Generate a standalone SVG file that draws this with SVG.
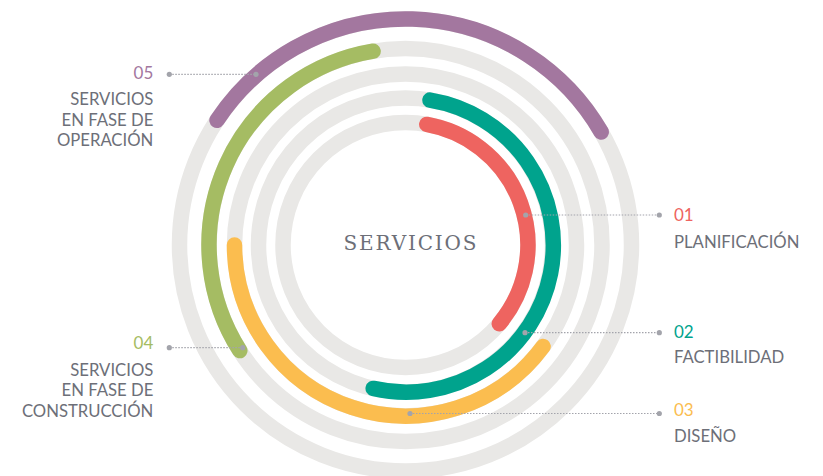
<svg xmlns="http://www.w3.org/2000/svg" width="823" height="476" viewBox="0 0 823 476">
<style>
.ring{fill:none;stroke:#E9E8E6;stroke-width:15.5}
.arc{fill:none;stroke-width:15.5;stroke-linecap:round}
.lead{fill:none;stroke:#A3A4AB;stroke-width:1.2;stroke-dasharray:1.5 1.5}
.dot{fill:#A3A4AB}
.lbl{font-family:Lato,"Open Sans","Liberation Sans",sans-serif;font-size:16.7px;fill:#6D6F78}
.num{font-family:Lato,"Open Sans","Liberation Sans",sans-serif;font-size:17px}
.title{font-family:"DejaVu Serif","Liberation Serif",serif;font-size:20px;fill:#6D6F78}
</style>
<rect width="823" height="476" fill="#FFFFFF"/>
<g id="rings">
<circle class="ring" cx="405.5" cy="245" r="226"/>
<circle class="ring" cx="405.5" cy="245" r="196.5"/>
<circle class="ring" cx="405.5" cy="245" r="171"/>
<circle class="ring" cx="405.5" cy="245" r="147"/>
<circle class="ring" cx="405.5" cy="245" r="122.5"/>
</g>
<g id="arc05"><path class="arc" stroke="#A3779F" d="M217,120.3 A226,226 0 0 1 601.2,132"/></g>
<g id="arc04"><path class="arc" stroke="#A5BC63" d="M239.8,350.6 A196.5,196.5 0 0 1 373.1,51.2"/></g>
<g id="arc03"><path class="arc" stroke="#FBBD4F" d="M543.1,346.5 A171,171 0 0 1 234.5,245"/></g>
<g id="arc02"><path class="arc" stroke="#00A38D" d="M430,100.1 A147,147 0 1 1 373.2,388.4"/></g>
<g id="arc01"><path class="arc" stroke="#EE6460" d="M426.8,124.4 A122.5,122.5 0 0 1 499.3,323.7"/></g>
<g id="connectors">
<line class="lead" x1="525.7" y1="215" x2="659.3" y2="215"/>
<circle class="dot" cx="525.7" cy="215" r="2.6"/><circle class="dot" cx="659.3" cy="215" r="2.6"/>
<line class="lead" x1="525" y1="332.7" x2="659.3" y2="332.7"/>
<circle class="dot" cx="525" cy="332.7" r="2.6"/><circle class="dot" cx="659.3" cy="332.7" r="2.6"/>
<line class="lead" x1="410" y1="413.5" x2="659.3" y2="413.5"/>
<circle class="dot" cx="410" cy="413.5" r="2.6"/><circle class="dot" cx="659.3" cy="413.5" r="2.6"/>
<line class="lead" x1="169.3" y1="347.7" x2="242.7" y2="347.7"/>
<circle class="dot" cx="169.3" cy="347.7" r="2.6"/><circle class="dot" cx="242.7" cy="347.7" r="2.6"/>
<line class="lead" x1="169.3" y1="74.3" x2="256" y2="74.3"/>
<circle class="dot" cx="169.3" cy="74.3" r="2.6"/><circle class="dot" cx="256" cy="74.3" r="2.6"/>
</g>
<g id="center"><text class="title" x="410" y="250" text-anchor="middle" textLength="133" lengthAdjust="spacing">SERVICIOS</text></g>
<g id="label01">
<text class="num" x="674" y="221" fill="#EE6460">01</text>
<text class="lbl" x="674" y="247.7">PLANIFICACIÓN</text>
</g>
<g id="label02">
<text class="num" x="674" y="337.7" fill="#00A38D">02</text>
<text class="lbl" x="674" y="362.7">FACTIBILIDAD</text>
</g>
<g id="label03">
<text class="num" x="674" y="416" fill="#FBBD4F">03</text>
<text class="lbl" x="674" y="441.7">DISEÑO</text>
</g>
<g id="label04">
<text class="num" x="153.3" y="349.3" text-anchor="end" fill="#A5BC63">04</text>
<text class="lbl" x="153.3" y="375.5" text-anchor="end">SERVICIOS</text>
<text class="lbl" x="153.3" y="396" text-anchor="end">EN FASE DE</text>
<text class="lbl" x="153.3" y="416.5" text-anchor="end">CONSTRUCCIÓN</text>
</g>
<g id="label05">
<text class="num" x="153.3" y="78.5" text-anchor="end" fill="#A3779F">05</text>
<text class="lbl" x="153.3" y="105" text-anchor="end">SERVICIOS</text>
<text class="lbl" x="153.3" y="125.5" text-anchor="end">EN FASE DE</text>
<text class="lbl" x="153.3" y="146" text-anchor="end">OPERACIÓN</text>
</g>
</svg>
